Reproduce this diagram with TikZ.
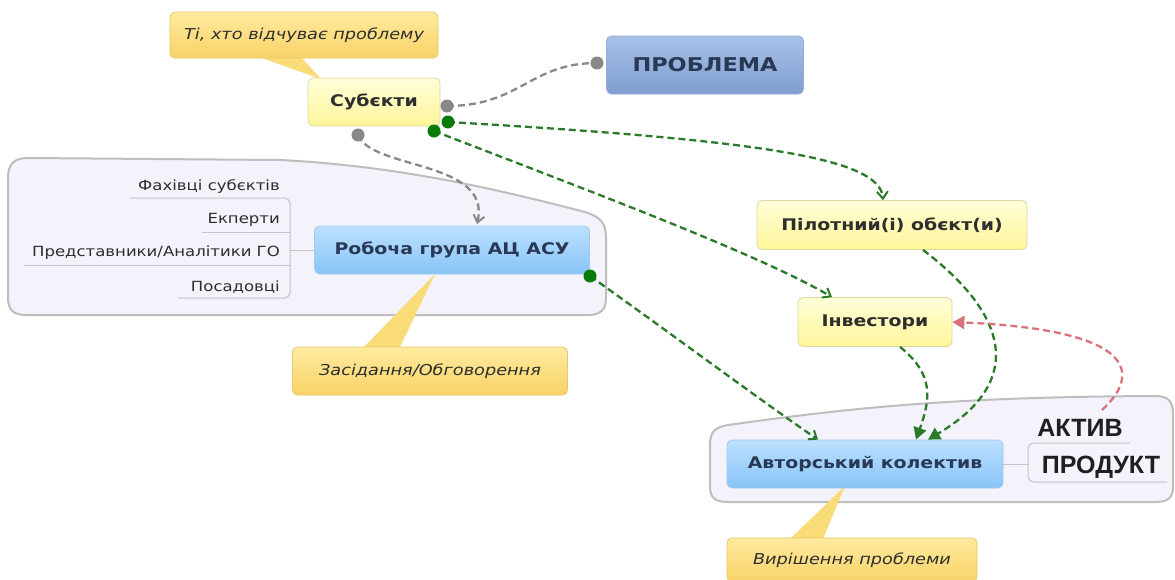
\documentclass[tikz,border=0pt]{standalone}
\usepackage{fontspec}
\setmainfont{DejaVu Sans}[FakeStretch=1.18]
\newfontfamily\arialb{Liberation Sans}[BoldFont=* Bold]
\usetikzlibrary{arrows.meta}
\definecolor{yelt}{HTML}{FFFFD8}
\definecolor{yelbt}{HTML}{FFF59A}
\definecolor{yelb}{HTML}{DCD9A0}
\definecolor{blut}{HTML}{BCE0FF}
\definecolor{blubt}{HTML}{88C4F8}
\definecolor{blub}{HTML}{A3CBEF}
\definecolor{prt}{HTML}{A9C1E8}
\definecolor{prbt}{HTML}{7F9DD0}
\definecolor{prb}{HTML}{94ACD6}
\definecolor{calt}{HTML}{FFEBA0}
\definecolor{calbt}{HTML}{F8D266}
\definecolor{calb}{HTML}{E8C868}
\definecolor{calp}{HTML}{F9DB78}
\definecolor{txtd}{HTML}{2E2E2E}
\definecolor{txtb}{HTML}{283855}
\definecolor{grn}{HTML}{2A7A2A}
\definecolor{grnd}{HTML}{0A7A0A}
\definecolor{gry}{HTML}{888888}
\definecolor{redd}{HTML}{D8737B}
\definecolor{bnd}{HTML}{BEBEBE}
\definecolor{bndf}{HTML}{F4F2FB}
\definecolor{itm}{HTML}{C4C4C4}
\begin{document}
\begin{tikzpicture}[x=1pt,y=-1pt,
  box/.style={rounded corners=5pt, inner sep=0pt, line width=0.8pt, align=center},
  yel/.style={box, draw=yelb, top color=yelt, bottom color=yelbt, text=txtd,
    font=\bfseries\fontsize{16}{18}\selectfont},
  blu/.style={box, draw=blub, top color=blut, bottom color=blubt, text=txtb,
    font=\bfseries\fontsize{16}{18}\selectfont},
  prob/.style={box, draw=prb, top color=prt, bottom color=prbt, text=txtb,
    font=\bfseries\fontsize{19}{22}\selectfont},
  call/.style={box, draw=calb, top color=calt, bottom color=calbt, text=txtd,
    font=\itshape\fontsize{15}{18}\selectfont},
  callptr/.style={fill=calp, draw=none},
  bound/.style={draw=bnd, line width=2pt, fill=bndf},
  item/.style={inner sep=0pt, anchor=east, text=txtd, font=\fontsize{14}{16}\selectfont},
  itemline/.style={draw=itm, line width=1pt},
  big/.style={inner sep=0pt, text=black!88, font=\arialb\bfseries\fontsize{25}{28}\selectfont},
  gdash/.style={draw=grn, line width=2.3pt, dash pattern=on 7pt off 4pt},
  ydash/.style={draw=gry, line width=2.3pt, dash pattern=on 7pt off 4pt},
  rdash/.style={draw=redd, line width=2.3pt, dash pattern=on 7pt off 4pt},
  gdot/.style={circle, fill=grnd, inner sep=0pt, minimum size=13pt},
  ydot/.style={circle, fill=gry, inner sep=0pt, minimum size=13pt},
]
\useasboundingbox[fill=white] (0,0) rectangle (1175,579);

% boundaries
\path[bound] (8,178) .. controls (8,164) and (14,158) .. (28,158)
  -- (280,160) .. controls (400,166) and (500,190) .. (585,212)
  .. controls (600,217) and (606,222) .. (606,238)
  -- (606,298) .. controls (606,310) and (600,315) .. (588,315)
  -- (26,315) .. controls (13,315) and (8,310) .. (8,297) -- cycle;
\path[bound] (710,445) .. controls (710,432) and (715,427) .. (728,425)
  .. controls (850,408) and (950,397) .. (1155,396)
  .. controls (1168,396) and (1173,401) .. (1173,414)
  -- (1173,486) .. controls (1173,498) and (1168,502) .. (1155,502)
  -- (728,502) .. controls (715,502) and (710,498) .. (710,486) -- cycle;

% callout pointers
\fill[callptr] (256,56) -- (321,79) -- (300,56) -- cycle;
\fill[callptr] (362,349) -- (435,274) -- (399,349) -- cycle;
\fill[callptr] (790,539) -- (845,486) -- (823,539) -- cycle;

% nodes
\node[call, minimum width=268pt, minimum height=46pt] (c1) at (304,35) {Ті, хто відчуває проблему};
\node[yel, minimum width=132pt, minimum height=48pt] (sub) at (374,102) {Субєкти};
\node[prob, minimum width=197pt, minimum height=58pt] (pr) at (705,65) {ПРОБЛЕМА};
\node[blu, minimum width=275pt, minimum height=48pt] (rg) at (452,250) {Робоча група АЦ АСУ};
\node[call, minimum width=275pt, minimum height=48pt] (c2) at (430,371) {Засідання/Обговорення};
\node[yel, minimum width=270pt, minimum height=49pt] (pil) at (892,225) {Пілотний(і) обєкт(и)};
\node[yel, minimum width=154pt, minimum height=49pt] (inv) at (875,322) {Інвестори};
\node[blu, minimum width=276pt, minimum height=48pt] (av) at (865,464) {Авторський колектив};
\node[call, minimum width=250pt, minimum height=44pt] (c3) at (852,560) {Вирішення проблеми};

% left items
\node[item] (i1) at (280,187) {Фахівці субєктів};
\node[item] (i2) at (280,220) {Екперти};
\node[item] (i3) at (280,253) {Представники/Аналітики ГО};
\node[item] (i4) at (280,287) {Посадовці};
\coordinate (sp) at (290,250);
\draw[itemline] (130,198) -- (284,198) arc[start angle=90, end angle=0, radius=6pt] -- (290,292) arc[start angle=0, end angle=-90, radius=6pt] -- (178,298);
\draw[itemline] (202,232) -- (290,232);
\draw[itemline] (24,265) -- (290,265);
\draw[itemline] (sp) -- (rg.west);

% right items
\node[big] (akt) at (1080,428) {АКТИВ};
\node[big] (prod) at (1101,467) {ПРОДУКТ};
\coordinate (sp2) at (1028,464);
\draw[itemline] (1130,443) -- (1034,443) arc[start angle=90, end angle=180, radius=6pt] -- (1028,476) arc[start angle=180, end angle=270, radius=6pt] -- (1167,482);
\draw[itemline] (av.east) -- (sp2);

% dot coordinates
\coordinate (d1) at (447,106);
\coordinate (d2) at (597,63);
\coordinate (d3) at (358,135);
\coordinate (g1) at (448,122);
\coordinate (g2) at (434,131);
\coordinate (g3) at (590,276);

% gray connectors
\draw[ydash] (d1) .. controls (520,106) and (530,63) .. (d2);
\draw[ydash, -{Straight Barb[length=7pt, width=11pt, line width=2pt]}] (d3) .. controls (372,170) and (492,160) .. (477,224);
\node[ydot] at (d1) {};
\node[ydot] at (d2) {};
\node[ydot] at (d3) {};

% green connectors
\draw[gdash, -{Straight Barb[length=7pt, width=11pt, line width=2pt]}] (g1) .. controls (760,140) and (880,158) .. (pil.north -| 883,0);
\draw[gdash, -{Straight Barb[length=7pt, width=11pt, line width=2pt]}] (g2) .. controls (600,195) and (760,255) .. (inv.north -| 832,0);
\draw[gdash, -{Straight Barb[length=7pt, width=11pt, line width=2pt]}] (g3) .. controls (680,340) and (760,400) .. (av.north -| 818,0);
\draw[gdash, -{Triangle[length=12pt, width=13pt]}] (pil.south -| 923,0) .. controls (1015,320) and (1020,385) .. (av.north -| 928,0);
\draw[gdash, -{Triangle[length=12pt, width=13pt]}] (inv.south -| 900,0) .. controls (935,375) and (930,400) .. (av.north -| 916,0);
\node[gdot] at (g2) {};
\node[gdot] at (g1) {};
\node[gdot] at (g3) {};

% red connector
\draw[rdash, -{Triangle[length=12pt, width=13pt]}] (1102,410) .. controls (1140,375) and (1140,330) .. (inv.east);
\end{tikzpicture}
\end{document}
